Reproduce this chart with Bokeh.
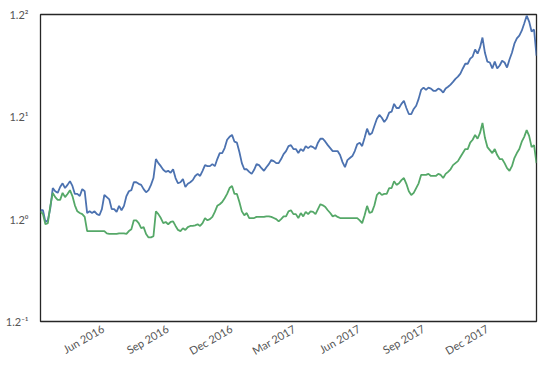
import pandas as pd
from bokeh.plotting import figure
from bokeh.models import (Range1d, FixedTicker, CustomJSTickFormatter,
                          DatetimeTickFormatter, ColumnDataSource)
from bokeh.embed import file_html
from bokeh.resources import INLINE

# ---- data ----
START = "2016-03-04"
END = "2018-02-09"

blue = [
    1.016, 1.016, 0.995, 0.998, 1.020, 1.057, 1.051, 1.048, 1.059, 1.066,
    1.057, 1.063, 1.070, 1.061, 1.046, 1.046, 1.042, 1.055, 1.051, 1.011,
    1.014, 1.011, 1.014, 1.009, 1.007, 1.018, 1.044, 1.040, 1.036, 1.018,
    1.018, 1.013, 1.024, 1.016, 1.024, 1.042, 1.051, 1.053, 1.068, 1.068,
    1.065, 1.063, 1.055, 1.049, 1.053, 1.063, 1.076, 1.113, 1.105, 1.099,
    1.092, 1.088, 1.090, 1.086, 1.093, 1.076, 1.066, 1.068, 1.074, 1.059,
    1.065, 1.068, 1.072, 1.080, 1.084, 1.080, 1.090, 1.101, 1.099, 1.099,
    1.103, 1.099, 1.113, 1.125, 1.125, 1.135, 1.152, 1.158, 1.162, 1.148,
    1.146, 1.127, 1.105, 1.093, 1.093, 1.088, 1.084, 1.092, 1.103, 1.101,
    1.095, 1.090, 1.097, 1.103, 1.111, 1.109, 1.105, 1.105, 1.113, 1.123,
    1.129, 1.139, 1.141, 1.133, 1.133, 1.125, 1.133, 1.129, 1.139, 1.135,
    1.139, 1.137, 1.133, 1.146, 1.154, 1.154, 1.148, 1.141, 1.135, 1.129,
    1.129, 1.129, 1.121, 1.107, 1.097, 1.111, 1.115, 1.119, 1.129, 1.143,
    1.146, 1.139, 1.156, 1.175, 1.162, 1.166, 1.181, 1.196, 1.204, 1.198,
    1.189, 1.196, 1.209, 1.211, 1.228, 1.219, 1.219, 1.228, 1.235, 1.219,
    1.206, 1.206, 1.217, 1.224, 1.239, 1.259, 1.264, 1.259, 1.264, 1.262,
    1.257, 1.257, 1.262, 1.259, 1.253, 1.262, 1.266, 1.271, 1.277, 1.284,
    1.289, 1.296, 1.308, 1.319, 1.319, 1.331, 1.336, 1.353, 1.343, 1.358,
    1.382, 1.345, 1.324, 1.322, 1.308, 1.324, 1.308, 1.315, 1.326, 1.322,
    1.310, 1.329, 1.345, 1.367, 1.380, 1.387, 1.399, 1.417, 1.437, 1.422,
    1.397, 1.402, 1.338,
]

green = [
    1.014, 1.009, 0.991, 0.993, 1.024, 1.048, 1.040, 1.035, 1.035, 1.048,
    1.040, 1.046, 1.053, 1.042, 1.025, 1.014, 1.011, 1.009, 1.004, 0.979,
    0.979, 0.979, 0.979, 0.979, 0.979, 0.979, 0.979, 0.975, 0.974, 0.974,
    0.974, 0.974, 0.975, 0.975, 0.975, 0.974, 0.979, 0.982, 0.998, 0.998,
    0.993, 0.984, 0.986, 0.974, 0.968, 0.968, 0.970, 1.014, 1.009, 1.002,
    0.993, 0.995, 0.991, 0.995, 0.996, 0.988, 0.981, 0.979, 0.984, 0.981,
    0.986, 0.988, 0.988, 0.989, 0.991, 0.988, 0.993, 1.002, 0.998, 1.000,
    1.004, 1.013, 1.024, 1.027, 1.031, 1.038, 1.046, 1.057, 1.061, 1.046,
    1.046, 1.031, 1.014, 1.007, 1.011, 1.002, 1.002, 1.002, 1.004, 1.004,
    1.004, 1.004, 1.005, 1.005, 1.004, 1.002, 1.000, 0.996, 1.000, 1.005,
    1.005, 1.014, 1.016, 1.009, 1.009, 1.002, 1.011, 1.005, 1.013, 1.009,
    1.014, 1.013, 1.009, 1.018, 1.027, 1.025, 1.022, 1.016, 1.011, 1.005,
    1.007, 1.004, 1.002, 1.002, 1.002, 1.002, 1.002, 1.002, 1.002, 1.002,
    0.998, 0.993, 1.007, 1.024, 1.011, 1.013, 1.025, 1.044, 1.049, 1.044,
    1.046, 1.046, 1.057, 1.057, 1.070, 1.063, 1.066, 1.072, 1.076, 1.065,
    1.051, 1.044, 1.048, 1.057, 1.066, 1.082, 1.082, 1.082, 1.084, 1.080,
    1.080, 1.080, 1.084, 1.082, 1.076, 1.084, 1.088, 1.093, 1.101, 1.105,
    1.109, 1.117, 1.125, 1.133, 1.133, 1.146, 1.152, 1.162, 1.154, 1.166,
    1.187, 1.156, 1.137, 1.131, 1.125, 1.133, 1.121, 1.113, 1.113, 1.105,
    1.095, 1.090, 1.099, 1.115, 1.125, 1.133, 1.148, 1.158, 1.172, 1.160,
    1.137, 1.141, 1.105,
]

X_TICKS = ["2016-06-01", "2016-09-01", "2016-12-01", "2017-03-01",
           "2017-06-01", "2017-09-01", "2017-12-01"]
Y_BASE = 1.2
Y_EXPONENTS = [-1, 0, 1, 2]
Y_LABELS = ["1.2\u207b\u00b9", "1.2\u2070", "1.2\u00b9", "1.2\u00b2"]

# ---- figure ----
dates = pd.date_range(START, END, periods=len(blue))
src = ColumnDataSource(dict(date=dates, blue=blue, green=green))

p = figure(width=544, height=365,
           x_axis_type="datetime", y_axis_type="log",
           x_range=Range1d(dates[0], dates[-1]),
           y_range=Range1d(Y_BASE ** Y_EXPONENTS[0], Y_BASE ** Y_EXPONENTS[-1]),
           output_backend="svg", toolbar_location=None,
           min_border_left=40, min_border_right=8,
           min_border_top=14, min_border_bottom=44)

p.line("date", "blue", source=src, line_color="#4C72B0", line_width=1.8)
p.line("date", "green", source=src, line_color="#55A868", line_width=1.8)

p.xgrid.visible = False
p.ygrid.visible = False
p.outline_line_color = "#262626"
p.outline_line_width = 1.3
p.outline_line_alpha = 1.0
p.background_fill_color = "white"
p.border_fill_color = "white"

x_ticks_ms = [pd.Timestamp(d).timestamp() * 1000 for d in X_TICKS]
p.xaxis.ticker = FixedTicker(ticks=x_ticks_ms)
p.xaxis.formatter = DatetimeTickFormatter(days="%b %Y", months="%b %Y",
                                          years="%b %Y")
p.xaxis.major_label_orientation = 0.5236

p.yaxis.ticker = FixedTicker(ticks=[Y_BASE ** e for e in Y_EXPONENTS])
p.yaxis.formatter = CustomJSTickFormatter(
    args=dict(labels=Y_LABELS, exps=Y_EXPONENTS, base=Y_BASE),
    code="""
const e = Math.round(Math.log(tick) / Math.log(base));
const i = exps.indexOf(e);
return i >= 0 ? labels[i] : "";
""")

for ax in (p.xaxis[0], p.yaxis[0]):
    ax.axis_line_color = None
    ax.major_tick_line_color = None
    ax.minor_tick_line_color = None
    ax.major_tick_out = 0
    ax.major_tick_in = 0
    ax.minor_tick_out = 0
    ax.major_label_text_font = "Lato"
    ax.major_label_text_font_size = "11px"
    ax.major_label_text_color = "#555555"

p.xaxis.major_label_standoff = 6
p.yaxis.major_label_standoff = 12

open("out.html", "w").write(file_html(p, INLINE))
